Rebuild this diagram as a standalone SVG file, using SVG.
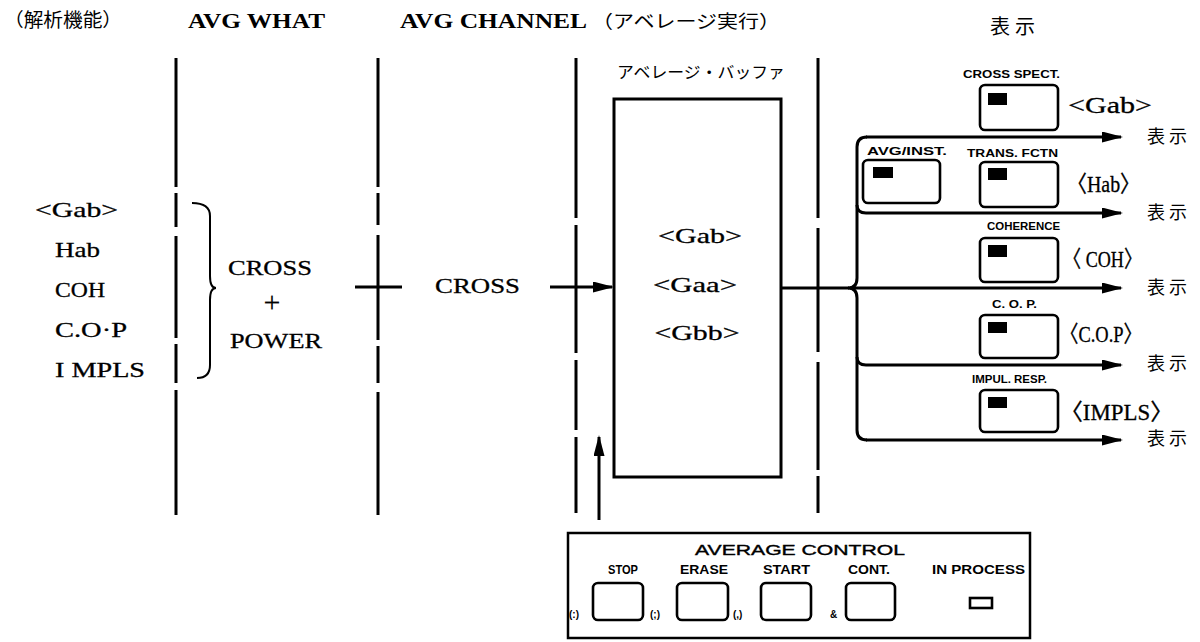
<svg xmlns="http://www.w3.org/2000/svg" width="1200" height="642" viewBox="0 0 1200 642">
<style>
.ln{stroke:#000;stroke-width:3;fill:none;stroke-linecap:butt}
.thin{stroke:#000;stroke-width:2;fill:none}
.box{stroke:#000;stroke-width:3;fill:#fff}
.btn{stroke:#000;stroke-width:2.6;fill:#fff}
.ind{fill:#000}
.ser{font-family:"Liberation Serif","Noto Sans CJK JP",serif;font-size:22px;fill:#000;stroke:#000;stroke-width:0.3}
.big{font-size:23px}
.serb{font-family:"Liberation Serif","Noto Sans CJK JP",serif;font-size:20px;font-weight:bold;fill:#000}
.jp{font-family:"Noto Sans CJK JP",sans-serif;fill:#000}
.hy{font-size:18px;letter-spacing:4px}
.lbl{font-family:"Liberation Sans",Arial,sans-serif;font-size:11.5px;font-weight:bold;fill:#000}
.clbl{font-family:"Liberation Sans",Arial,sans-serif;font-size:12px;font-weight:bold;fill:#000}
.sm{font-size:10px}
</style>
<defs>
<marker id="ah" markerUnits="userSpaceOnUse" markerWidth="22" markerHeight="11" refX="19" refY="5.5" orient="auto">
<path d="M0,0 L21,5.5 L0,11 z" fill="#000"/>
</marker>
</defs>
<rect width="1200" height="642" fill="#fff"/>

<g id="headers">
<text class="jp" x="4" y="27" style="font-size:19px" textLength="118" lengthAdjust="spacingAndGlyphs">（解析機能）</text>
<text class="serb" x="188" y="28" textLength="137" lengthAdjust="spacingAndGlyphs">AVG  WHAT</text>
<text class="serb" x="400" y="28" textLength="187" lengthAdjust="spacingAndGlyphs">AVG  CHANNEL</text>
<text class="jp" x="592" y="28" style="font-size:18px" textLength="188" lengthAdjust="spacingAndGlyphs">（アベレージ実行）</text>
<text class="jp" x="990" y="34" style="font-size:20px;letter-spacing:5px">表示</text>
</g>

<g id="dividers">
<path class="ln" d="M176,58 V187 M176,193 V227 M176,236 V338 M176,344 V383 M176,390 V515"/>
<path class="ln" d="M378,58 V187 M378,193 V225 M378,235 V340 M378,346 V383 M378,392 V515"/>
<path class="ln" d="M576,58 V218 M576,225 V353 M576,360 V430 M576,437 V513"/>
<path class="ln" d="M818,58 V218 M818,228 V352 M818,362 V470 M818,476 V513"/>
</g>

<g id="analysis-functions">
<text class="ser" x="35" y="217" textLength="83" lengthAdjust="spacingAndGlyphs">&lt;Gab&gt;</text>
<text class="ser" x="55" y="257" textLength="45" lengthAdjust="spacingAndGlyphs">Hab</text>
<text class="ser" x="55" y="297" textLength="50" lengthAdjust="spacingAndGlyphs">COH</text>
<text class="ser" x="55" y="337" textLength="72" lengthAdjust="spacingAndGlyphs">C.O·P</text>
<text class="ser" x="55" y="377" textLength="90" lengthAdjust="spacingAndGlyphs">I MPLS</text>
</g>

<g id="avg-what">
<path class="thin" d="M192,203 Q210,203 210,216 L210,276 Q210,288 216,288 Q210,288 210,300 L210,365 Q210,378 197,378"/>
<text class="ser" x="228" y="275" textLength="84" lengthAdjust="spacingAndGlyphs">CROSS</text>
<text class="ser" x="272" y="312" text-anchor="middle" style="font-size:30px;stroke-width:0.1">+</text>
<text class="ser" x="230" y="348" textLength="92" lengthAdjust="spacingAndGlyphs">POWER</text>
</g>

<g id="avg-channel">
<text class="ser" x="435" y="293" textLength="85" lengthAdjust="spacingAndGlyphs">CROSS</text>
</g>

<g id="average-buffer">
<text class="jp" x="617" y="78" style="font-size:16px" textLength="168" lengthAdjust="spacingAndGlyphs">アベレージ・バッファ</text>
<rect class="box" x="614" y="99" width="167" height="378"/>
<text class="ser" x="700" y="243" text-anchor="middle" textLength="84" lengthAdjust="spacingAndGlyphs">&lt;Gab&gt;</text>
<text class="ser" x="695" y="292" text-anchor="middle" textLength="84" lengthAdjust="spacingAndGlyphs">&lt;Gaa&gt;</text>
<text class="ser" x="697" y="340" text-anchor="middle" textLength="85" lengthAdjust="spacingAndGlyphs">&lt;Gbb&gt;</text>
</g>

<g id="connectors">
<path class="ln" d="M355,287 H402"/>
<path class="ln" d="M550,287 H612" marker-end="url(#ah)"/>
<path class="ln" d="M599,520 V437" marker-end="url(#ah)"/>
<path class="ln" d="M781,288 H849"/>
<path class="ln" d="M867,137 Q857,137 857,147 L857,278 Q857,288 848,288 Q857,288 857,298 L857,430 Q857,440 867,440"/>
<path class="ln" d="M866,137 H1121" marker-end="url(#ah)"/>
<path class="ln" d="M857,205 Q857,213 866,213 H1121" marker-end="url(#ah)"/>
<path class="ln" d="M850,288 H1121" marker-end="url(#ah)"/>
<path class="ln" d="M857,357 Q857,365 866,365 H1121" marker-end="url(#ah)"/>
<path class="ln" d="M866,440 H1121" marker-end="url(#ah)"/>
</g>

<g id="cross-spect">
<text class="lbl" x="963" y="78" textLength="97" lengthAdjust="spacingAndGlyphs">CROSS SPECT.</text>
<rect class="btn" x="980" y="85" width="78" height="45" rx="5"/>
<rect class="ind" x="988" y="93" width="19" height="12"/>
<text class="ser big" x="1068" y="113" textLength="84" lengthAdjust="spacingAndGlyphs">&lt;Gab&gt;</text>
<text class="jp hy" x="1147" y="143">表示</text>
</g>

<g id="avg-inst">
<text class="lbl" x="867" y="155" textLength="80" lengthAdjust="spacingAndGlyphs">AVG/INST.</text>
<rect class="btn" x="863" y="160" width="77" height="43" rx="5"/>
<rect class="ind" x="873" y="167" width="20" height="11"/>
</g>

<g id="trans-fctn">
<text class="lbl" x="967" y="157" textLength="91" lengthAdjust="spacingAndGlyphs">TRANS. FCTN</text>
<rect class="btn" x="980" y="162" width="78" height="45" rx="5"/>
<rect class="ind" x="988" y="168" width="19" height="12"/>
<text class="ser big" x="1067" y="192" textLength="73" lengthAdjust="spacingAndGlyphs">〈Hab〉</text>
<text class="jp hy" x="1147" y="219">表示</text>
</g>

<g id="coherence">
<text class="lbl" x="987" y="230" textLength="73" lengthAdjust="spacingAndGlyphs">COHERENCE</text>
<rect class="btn" x="980" y="238" width="78" height="44" rx="5"/>
<rect class="ind" x="988" y="245" width="19" height="12"/>
<text class="ser big" x="1063" y="267" textLength="79" lengthAdjust="spacingAndGlyphs">〈 COH〉</text>
<text class="jp hy" x="1147" y="294">表示</text>
</g>

<g id="cop">
<text class="lbl" x="992" y="308" textLength="45" lengthAdjust="spacingAndGlyphs">C. O. P.</text>
<rect class="btn" x="980" y="315" width="78" height="43" rx="5"/>
<rect class="ind" x="988" y="322" width="19" height="11"/>
<text class="ser big" x="1060" y="342" textLength="82" lengthAdjust="spacingAndGlyphs">〈C.O.P〉</text>
<text class="jp hy" x="1147" y="370">表示</text>
</g>

<g id="impul-resp">
<text class="lbl" x="972" y="383" textLength="75" lengthAdjust="spacingAndGlyphs">IMPUL. RESP.</text>
<rect class="btn" x="980" y="390" width="78" height="42" rx="5"/>
<rect class="ind" x="988" y="397" width="19" height="11"/>
<text class="ser big" x="1060" y="420" textLength="113" lengthAdjust="spacingAndGlyphs">〈IMPLS〉</text>
<text class="jp hy" x="1147" y="445">表示</text>
</g>

<g id="average-control">
<rect x="568" y="533" width="462" height="105" fill="#fff" stroke="#000" stroke-width="2.5"/>
<text class="clbl" x="695" y="555" style="font-size:15px;font-weight:normal;stroke:#000;stroke-width:0.4" textLength="210" lengthAdjust="spacingAndGlyphs">AVERAGE  CONTROL</text>
<text class="clbl" x="608" y="574" textLength="30" lengthAdjust="spacingAndGlyphs">STOP</text>
<text class="clbl" x="680" y="574" textLength="48" lengthAdjust="spacingAndGlyphs">ERASE</text>
<text class="clbl" x="763" y="574" textLength="47" lengthAdjust="spacingAndGlyphs">START</text>
<text class="clbl" x="848" y="574" textLength="42" lengthAdjust="spacingAndGlyphs">CONT.</text>
<text class="clbl" x="932" y="574" textLength="93" lengthAdjust="spacingAndGlyphs">IN PROCESS</text>
<rect class="btn" x="593" y="583" width="50" height="37" rx="5"/>
<rect class="btn" x="677" y="583" width="51" height="37" rx="5"/>
<rect class="btn" x="761" y="583" width="50" height="37" rx="5"/>
<rect class="btn" x="846" y="583" width="49" height="37" rx="5"/>
<rect class="btn" x="970" y="598" width="22" height="10"/>
<text class="clbl sm" x="569" y="618">(:)</text>
<text class="clbl sm" x="650" y="618">(;)</text>
<text class="clbl sm" x="733" y="618">(,)</text>
<text class="clbl sm" x="830" y="618">&amp;</text>
</g>
</svg>
